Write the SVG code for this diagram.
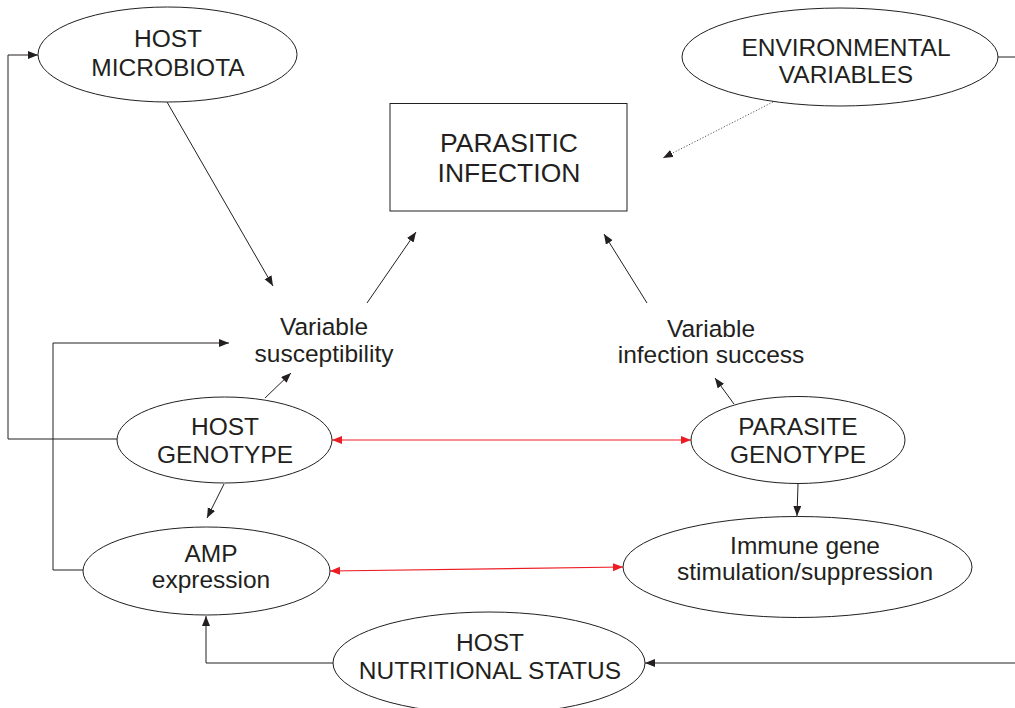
<svg xmlns="http://www.w3.org/2000/svg" width="1015" height="708" viewBox="0 0 1015 708">
<style>
.n{fill:#fff;stroke:#231f20;stroke-width:1}
.t{font-family:"Liberation Sans",Arial,sans-serif;font-size:24.5px;fill:#231f20;text-anchor:middle}
.c{fill:none;stroke:#231f20;stroke-width:1}
.r{fill:none;stroke:#ed1c24;stroke-width:1.2}
.d{fill:none;stroke:#555;stroke-width:1;stroke-dasharray:1.2 1.8}
</style>
<defs>
<marker id="a" markerUnits="userSpaceOnUse" markerWidth="11" markerHeight="9" refX="10" refY="4" orient="auto">
<path d="M0,0 L10,4 L0,8 Z" fill="#231f20"/>
</marker>
<marker id="ar" markerUnits="userSpaceOnUse" markerWidth="11" markerHeight="9" refX="10" refY="4" orient="auto-start-reverse">
<path d="M0,0 L10,4 L0,8 Z" fill="#ed1c24"/>
</marker>
</defs>
<g id="connectors">
<polyline class="c" points="117,439 8,439 8,55 38,55" marker-end="url(#a)"/>
<polyline class="c" points="83,570 53,570 53,343 229,343" marker-end="url(#a)"/>
<polyline class="c" points="334,663 206,663 206,616" marker-end="url(#a)"/>
<line class="c" x1="1015" y1="663" x2="645" y2="663" marker-end="url(#a)"/>
<line class="c" x1="998" y1="57" x2="1015" y2="57"/>
<line class="d" x1="773" y1="102" x2="663" y2="158" marker-end="url(#a)"/>
<line class="c" x1="167" y1="102" x2="273" y2="286" marker-end="url(#a)"/>
<line class="c" x1="367" y1="303" x2="416" y2="232" marker-end="url(#a)"/>
<line class="c" x1="647" y1="303" x2="604" y2="234" marker-end="url(#a)"/>
<line class="c" x1="265" y1="398" x2="291" y2="373" marker-end="url(#a)"/>
<line class="c" x1="224" y1="484" x2="207" y2="518" marker-end="url(#a)"/>
<line class="c" x1="734" y1="404" x2="715" y2="378" marker-end="url(#a)"/>
<line class="c" x1="798" y1="484" x2="797" y2="516" marker-end="url(#a)"/>
<line class="r" x1="332" y1="440" x2="691" y2="440" marker-start="url(#ar)" marker-end="url(#ar)"/>
<line class="r" x1="330" y1="571" x2="623" y2="567" marker-start="url(#ar)" marker-end="url(#ar)"/>
</g>
<g id="host-microbiota">
<ellipse class="n" cx="167.5" cy="54.5" rx="129.5" ry="47.5"/>
<text class="t" x="168" y="47">HOST</text>
<text class="t" x="168" y="76">MICROBIOTA</text>
</g>
<g id="environmental-variables">
<ellipse class="n" cx="840" cy="57" rx="158" ry="49"/>
<text class="t" x="846" y="56">ENVIRONMENTAL</text>
<text class="t" x="846" y="83">VARIABLES</text>
</g>
<g id="parasitic-infection">
<rect class="n" x="390" y="103.5" width="237" height="107.5"/>
<text class="t" x="509" y="152" style="font-size:26.5px">PARASITIC</text>
<text class="t" x="509" y="182" style="font-size:26.5px">INFECTION</text>
</g>
<g id="variable-susceptibility">
<text class="t" x="324" y="335">Variable</text>
<text class="t" x="324" y="362">susceptibility</text>
</g>
<g id="variable-infection-success">
<text class="t" x="711" y="337">Variable</text>
<text class="t" x="711" y="363">infection success</text>
</g>
<g id="host-genotype">
<ellipse class="n" cx="224.5" cy="440" rx="107.5" ry="43"/>
<text class="t" x="225" y="435">HOST</text>
<text class="t" x="225" y="463">GENOTYPE</text>
</g>
<g id="parasite-genotype">
<ellipse class="n" cx="798" cy="440" rx="107" ry="43.5"/>
<text class="t" x="798" y="435">PARASITE</text>
<text class="t" x="798" y="463">GENOTYPE</text>
</g>
<g id="amp-expression">
<ellipse class="n" cx="206.5" cy="571" rx="123.5" ry="44"/>
<text class="t" x="211" y="562">AMP</text>
<text class="t" x="211" y="588">expression</text>
</g>
<g id="immune-gene">
<ellipse class="n" cx="797.5" cy="567" rx="174.5" ry="50.5"/>
<text class="t" x="805" y="554">Immune gene</text>
<text class="t" x="805" y="580">stimulation/suppression</text>
</g>
<g id="host-nutritional-status">
<ellipse class="n" cx="489" cy="663" rx="156" ry="51"/>
<text class="t" x="490" y="651">HOST</text>
<text class="t" x="490" y="679">NUTRITIONAL STATUS</text>
</g>
</svg>
